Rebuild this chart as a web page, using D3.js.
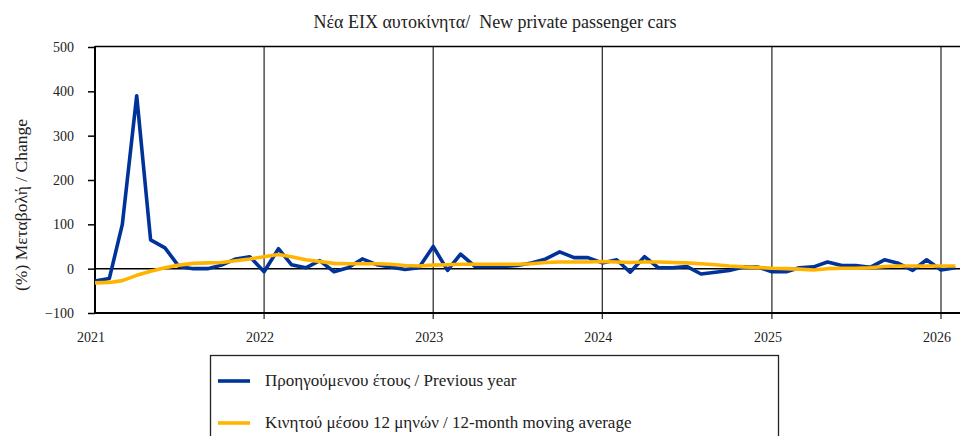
<!DOCTYPE html>
<html>
<head>
<meta charset="utf-8">
<script src="https://cdn.jsdelivr.net/npm/d3@7"></script>
<style>
  body { margin: 0; background: #fff; }
</style>
</head>
<body>
<div id="chart"></div>
<script>
const width = 960, height = 436;
const serif = '"Liberation Serif"';

// monthly series, starting January 2021
const startMonth = new Date(2021, 0, 1);
const previousYear = [
  -28, -22, 100, 390, 65, 47, 5, 0, 0, 8, 22, 27,
  -7, 45, 9, 2, 18, -7, 2, 22, 9, 4, -2, 2,
  50, -4, 33, 5, 5, 5, 7, 13, 22, 38, 25, 25,
  13, 20, -8, 27, 2, 2, 5, -12, -8, -4, 4, 4,
  -7, -7, 2, 4, 15, 7, 7, 3, 20, 12, -4, 20,
  -3, 2
];
const movingAvg = [
  -32, -31, -27, -15, -6, 2, 8, 12, 13, 14, 18, 22,
  27, 32, 27, 20, 16, 12, 11, 11, 11, 10, 7, 6,
  8, 9, 10, 10, 10, 10, 10, 11, 14, 15, 15, 15,
  16, 15, 14, 15, 15, 14, 13, 11, 9, 6, 4, 3,
  1, 0, -1, -3, 0, 1, 1, 2, 5, 6, 6, 6,
  6, 6
];
const yTicks = [-100, 0, 100, 200, 300, 400, 500];
const yearTicks = [2021, 2022, 2023, 2024, 2025, 2026];

const title = "Νέα ΕΙΧ αυτοκίνητα/  New private passenger cars";
const yLabel = "(%) Μεταβολή / Change";
const seriesNames = ["Προηγούμενου έτους / Previous year", "Κινητού μέσου 12 μηνών / 12-month moving average"];
const seriesColors = ["#003399", "#ffb400"];

const margin = { left: 95, top: 47, bottom: 313 };

const svg = d3.select("#chart").append("svg")
    .attr("width", width)
    .attr("height", height);

const x = d3.scaleTime()
    .domain([new Date(2021, 0, 1), new Date(2026, 0, 1)])
    .range([95, 941]);
const y = d3.scaleLinear()
    .domain([-100, 500])
    .range([margin.bottom, margin.top]);

const monthDate = i => d3.timeMonth.offset(startMonth, i);

// title
svg.append("text")
    .attr("x", 495).attr("y", 28)
    .attr("text-anchor", "middle")
    .attr("font-size", 18)
    .attr("fill", "#222")
    .style("font-family", serif)
    .style("white-space", "pre")
    .text(title);

// vertical year lines
svg.append("g")
    .selectAll("line")
    .data(yearTicks.slice(1))
    .join("line")
    .attr("x1", d => x(new Date(d, 0, 1)))
    .attr("x2", d => x(new Date(d, 0, 1)))
    .attr("y1", margin.top)
    .attr("y2", margin.bottom + 6)
    .attr("stroke", "#333")
    .attr("stroke-width", 1.3);

// top frame
svg.append("line")
    .attr("x1", margin.left).attr("x2", width)
    .attr("y1", margin.top - 0.5).attr("y2", margin.top - 0.5)
    .attr("stroke", "#000").attr("stroke-width", 1.5);

// y axis
const yAxis = svg.append("g")
    .attr("transform", `translate(${margin.left},0)`)
    .call(d3.axisLeft(y).tickValues(yTicks).tickSize(7).tickPadding(14).tickFormat(d3.format("d")));
yAxis.select(".domain").attr("stroke-width", 2).attr("d", `M0,${margin.top - 1}V${margin.bottom}`);
yAxis.selectAll(".tick line").attr("stroke-width", 1.5);
yAxis.selectAll(".tick text")
    .attr("font-size", 14).attr("fill", "#222")
    .style("font-family", serif);

// x axis labels (at bottom)
svg.append("g")
    .selectAll("text")
    .data(yearTicks)
    .join("text")
    .attr("x", d => x(new Date(d, 0, 1)) - 4)
    .attr("y", 342)
    .attr("text-anchor", "middle")
    .attr("font-size", 14)
    .attr("fill", "#222")
    .style("font-family", serif)
    .text(d => d);

// bottom line (-100) and zero line
svg.append("line")
    .attr("x1", margin.left).attr("x2", width)
    .attr("y1", y(-100)).attr("y2", y(-100))
    .attr("stroke", "#000").attr("stroke-width", 2.2);
svg.append("line")
    .attr("x1", margin.left).attr("x2", width)
    .attr("y1", y(0)).attr("y2", y(0))
    .attr("stroke", "#000").attr("stroke-width", 1.5);

// y label
svg.append("text")
    .attr("transform", "translate(27,205) rotate(-90)")
    .attr("text-anchor", "middle")
    .attr("font-size", 17.5)
    .attr("fill", "#222")
    .style("font-family", serif)
    .text(yLabel);

// lines
const line = d3.line()
    .x((d, i) => x(monthDate(i)))
    .y(d => y(d));

[previousYear, movingAvg].forEach((s, k) => {
  svg.append("path")
      .datum(s)
      .attr("fill", "none")
      .attr("stroke", seriesColors[k])
      .attr("stroke-width", 3.6)
      .attr("stroke-linejoin", "round")
      .attr("d", line);
});

// legend
const legend = svg.append("g");
legend.append("rect")
    .attr("x", 210.5).attr("y", 355.5)
    .attr("width", 568).attr("height", 100)
    .attr("fill", "#fff")
    .attr("stroke", "#222").attr("stroke-width", 1.3);
seriesNames.forEach((name, k) => {
  const ly = 381 + k * 42;
  legend.append("line")
      .attr("x1", 218).attr("x2", 250)
      .attr("y1", ly).attr("y2", ly)
      .attr("stroke", seriesColors[k]).attr("stroke-width", 3.6);
  legend.append("text")
      .attr("x", 265).attr("y", ly + 5)
      .attr("font-size", 17)
      .attr("fill", "#222")
      .style("font-family", serif)
      .text(name);
});
</script>
</body>
</html>
